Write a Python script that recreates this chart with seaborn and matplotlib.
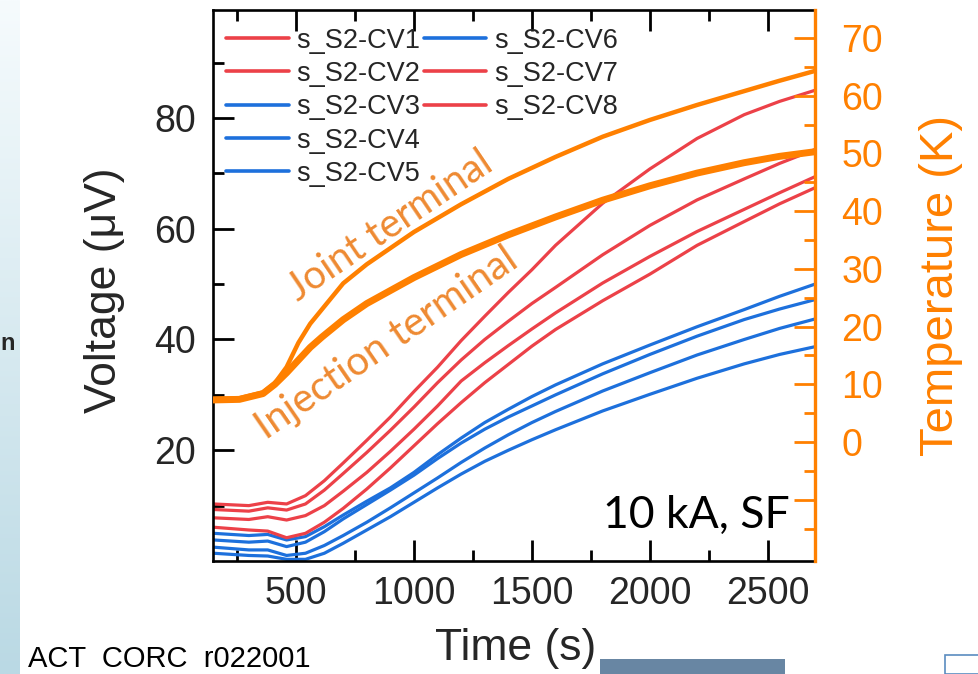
import numpy as np
import pandas as pd
import matplotlib
matplotlib.use("Agg")
import matplotlib.pyplot as plt
import seaborn as sns
from matplotlib.ticker import MultipleLocator, FixedLocator
from matplotlib.lines import Line2D
from matplotlib.patches import Rectangle

# ---------------- data ----------------
time_s = [150, 300, 380, 460, 540, 620, 700, 800, 900, 1000, 1100, 1200,
          1300, 1400, 1500, 1600, 1800, 2000, 2200, 2400, 2550, 2700]
cv1 = [10.3, 10.0, 10.6, 10.3, 11.8, 14.5, 17.7, 21.8, 26.0, 30.6, 35.0, 39.8,
       44.2, 48.5, 52.6, 57.0, 64.6, 70.8, 76.3, 80.6, 83.0, 85.0]
cv2 = [9.3, 9.0, 9.6, 9.2, 10.3, 12.8, 15.8, 19.6, 23.6, 27.8, 32.2, 36.3,
       40.0, 43.3, 46.5, 49.4, 55.3, 60.6, 65.2, 69.0, 71.8, 74.3]
cv7 = [7.8, 7.5, 8.0, 7.4, 8.2, 10.0, 12.6, 16.0, 19.8, 23.8, 28.0, 32.5,
       35.8, 38.9, 41.9, 44.8, 50.2, 55.0, 59.5, 63.5, 66.5, 69.4]
cv8 = [6.1, 5.6, 5.4, 4.2, 5.0, 7.0, 9.5, 13.0, 16.8, 20.8, 24.8, 28.6,
       32.2, 35.5, 38.8, 41.8, 47.0, 51.8, 57.0, 61.3, 64.5, 67.4]
cv3 = [5.0, 4.6, 4.8, 3.8, 4.4, 6.2, 8.3, 10.8, 13.2, 16.0, 19.2, 22.2,
       25.0, 27.4, 29.7, 31.8, 35.6, 39.0, 42.3, 45.4, 47.8, 50.0]
cv4 = [3.8, 3.4, 3.6, 2.6, 3.4, 5.3, 7.6, 10.2, 12.8, 15.5, 18.5, 21.3,
       23.8, 26.0, 28.0, 30.0, 33.8, 37.3, 40.6, 43.6, 45.5, 47.2]
cv5 = [2.5, 2.0, 2.0, 1.0, 1.4, 2.8, 4.6, 7.0, 9.6, 12.3, 15.0, 17.8,
       20.4, 22.8, 25.0, 27.0, 30.7, 34.0, 37.2, 40.0, 42.0, 43.7]
cv6 = [1.4, 1.0, 0.9, 0.3, 0.3, 1.4, 3.2, 5.6, 8.0, 10.6, 13.2, 15.7,
       18.0, 20.0, 21.9, 23.7, 27.1, 30.1, 33.0, 35.6, 37.3, 38.7]

temp_time = [150, 260, 360, 410, 460, 510, 560, 610, 700, 800, 1000, 1200,
             1400, 1600, 1800, 2000, 2200, 2400, 2550, 2700]
joint_T = [7.5, 7.6, 8.6, 10.2, 13.0, 17.2, 20.5, 23.0, 27.5, 30.8, 36.4, 41.2,
           45.6, 49.4, 52.9, 55.8, 58.4, 60.8, 62.6, 64.3]
inject_T = [7.3, 7.4, 8.4, 10.0, 12.0, 14.2, 16.4, 18.2, 21.2, 24.0, 28.5, 32.5,
            35.9, 39.0, 41.9, 44.4, 46.6, 48.4, 49.5, 50.3]

channels = ["s_S2-CV1", "s_S2-CV2", "s_S2-CV3", "s_S2-CV4",
            "s_S2-CV5", "s_S2-CV6", "s_S2-CV7", "s_S2-CV8"]
series = [cv1, cv2, cv3, cv4, cv5, cv6, cv7, cv8]
x_ticks = [500, 1000, 1500, 2000, 2500]
v_ticks = [20, 40, 60, 80]
t_ticks = [-10, 0, 10, 20, 30, 40, 50, 60, 70]
t_ticklabels = ["", "0", "10", "20", "30", "40", "50", "60", "70"]

RED = "#EC4148"
BLUE = "#1D70DC"
ORANGE = "#FF8000"
ANNOT = "#EE8A32"
palette = {"s_S2-CV1": RED, "s_S2-CV2": RED, "s_S2-CV7": RED, "s_S2-CV8": RED,
           "s_S2-CV3": BLUE, "s_S2-CV4": BLUE, "s_S2-CV5": BLUE, "s_S2-CV6": BLUE}

df = pd.DataFrame({
    "time": np.concatenate([time_s] * len(series)),
    "V": np.concatenate(series),
    "ch": np.repeat(channels, len(time_s)),
})

# ---------------- style ----------------
sns.set_theme(style="ticks")
plt.rcParams["font.family"] = ["Liberation Sans", "DejaVu Sans"]
plt.rcParams["axes.linewidth"] = 1.8

W, H = 979, 674
fig = plt.figure(figsize=(W / 100, H / 100), dpi=100)
fig.patch.set_facecolor("white")

# slide strip on the left
strip = fig.add_axes([0, 0, 20 / W, 1])
grad = np.linspace(0, 1, 256)[:, None]
top_c = np.array([246, 251, 253]) / 255
bot_c = np.array([186, 217, 228]) / 255
img = top_c[None, None, :] * (1 - grad[..., None]) + bot_c[None, None, :] * grad[..., None]
strip.imshow(img, aspect="auto", extent=[0, 1, 0, 1])
strip.axis("off")

ax = fig.add_axes([213 / W, 1 - 561 / H, 602 / W, 551 / H])
sns.lineplot(data=df, x="time", y="V", hue="ch", palette=palette, hue_order=channels,
             linewidth=2.3, estimator=None, sort=False, legend=False, ax=ax)

ax.set_xlim(148, 2700)
ax.set_ylim(0, 99.5)
ax.set_xticks(x_ticks)
ax.xaxis.set_minor_locator(MultipleLocator(250))
ax.set_yticks(v_ticks)
ax.yaxis.set_minor_locator(FixedLocator([10, 30, 50, 70, 90]))
ax.tick_params(which="both", direction="in", top=True, bottom=True, left=True,
               right=False, width=2.0, color="black")
ax.tick_params(which="major", length=15, labelsize=27)
ax.tick_params(axis="x", which="major", pad=11)
ax.tick_params(axis="y", which="major", pad=12)
ax.tick_params(which="minor", length=8)
ax.spines["right"].set_visible(False)
for s in ["left", "top", "bottom"]:
    ax.spines[s].set_color("black")
    ax.spines[s].set_linewidth(1.9)

ax.set_xlabel("Time (s)", fontsize=32, va="center")
ax.xaxis.set_label_coords(0.502, -0.158)
ax.set_ylabel("Voltage (\u03bcV)", fontsize=32, va="center")
ax.yaxis.set_label_coords(-0.181, 0.492)

# legend: 5 + 3 entries in two columns
handles = [Line2D([], [], color=palette[c], lw=2.6) for c in channels]
labels = list(channels)
handles += [Line2D([], [], color="none")] * 2
labels += ["", ""]
leg = ax.legend(handles, labels, ncol=2, loc="upper left",
                bbox_to_anchor=(0.022, 0.968), frameon=False, fontsize=19.5,
                handlelength=2.3, handletextpad=0.28, columnspacing=0.15,
                labelspacing=0.27, borderpad=0, borderaxespad=0)

ax.text(0.958, 0.06, "10 kA, SF", transform=ax.transAxes, ha="right",
        va="baseline", fontsize=32, family=["Lato", "DejaVu Sans"], color="black")

# temperature axis
ax2 = ax.twinx()
tdf = pd.DataFrame({"time": temp_time, "joint": joint_T, "inject": inject_T})
sns.lineplot(data=tdf, x="time", y="joint", color=ORANGE, linewidth=3.2, ax=ax2)
sns.lineplot(data=tdf, x="time", y="inject", color=ORANGE, linewidth=5.0, ax=ax2)
ax2.set_xlim(148, 2700)
ax2.set_ylim(-20.6, 74.85)
ax2.set_yticks(t_ticks)
ax2.set_yticklabels(t_ticklabels)
ax2.yaxis.set_minor_locator(FixedLocator([-15, -5, 5, 15, 25, 35, 45, 55, 65]))
ax2.tick_params(axis="y", which="both", direction="in", color=ORANGE,
                labelcolor=ORANGE, width=2.0, right=True, left=False)
ax2.tick_params(axis="y", which="major", length=15, labelsize=27, pad=19)
ax2.tick_params(axis="y", which="minor", length=8)
for s in ["left", "top", "bottom"]:
    ax2.spines[s].set_visible(False)
ax2.spines["right"].set_color(ORANGE)
ax2.spines["right"].set_linewidth(2.4)
ax2.set_ylabel("Temperature (K)", fontsize=34, color=ORANGE, va="center",
               rotation=90)
ax2.yaxis.set_label_coords(1.21, 0.5)
ax2.set_xlabel("")

# curve annotations
fig.text(390 / W, 1 - 226 / H, "Joint terminal", rotation=34, rotation_mode="anchor",
         ha="center", va="center", fontsize=28.5, color=ANNOT, family=["Lato", "DejaVu Sans"])
fig.text(387 / W, 1 - 343 / H, "Injection terminal", rotation=34.5, rotation_mode="anchor",
         ha="center", va="center", fontsize=29, color=ANNOT, family=["Lato", "DejaVu Sans"])

# slide elements
fig.text(0 / W, 1 - 343 / H, "n", fontsize=17, weight="bold", va="center", ha="left")
fig.text(28 / W, 1 - 667 / H, "ACT  CORC  r022001", fontsize=21, va="baseline",
         ha="left", color="black")
fig.patches.append(Rectangle((600 / W, 0), 185 / W, 15 / H, transform=fig.transFigure,
                             facecolor="#6886A3", edgecolor="none"))
fig.patches.append(Rectangle((945 / W, 0), 40 / W, 19 / H, transform=fig.transFigure,
                             facecolor="none", edgecolor="#5A8CC0", lw=1.2))

fig.savefig("out.png", dpi=100)
